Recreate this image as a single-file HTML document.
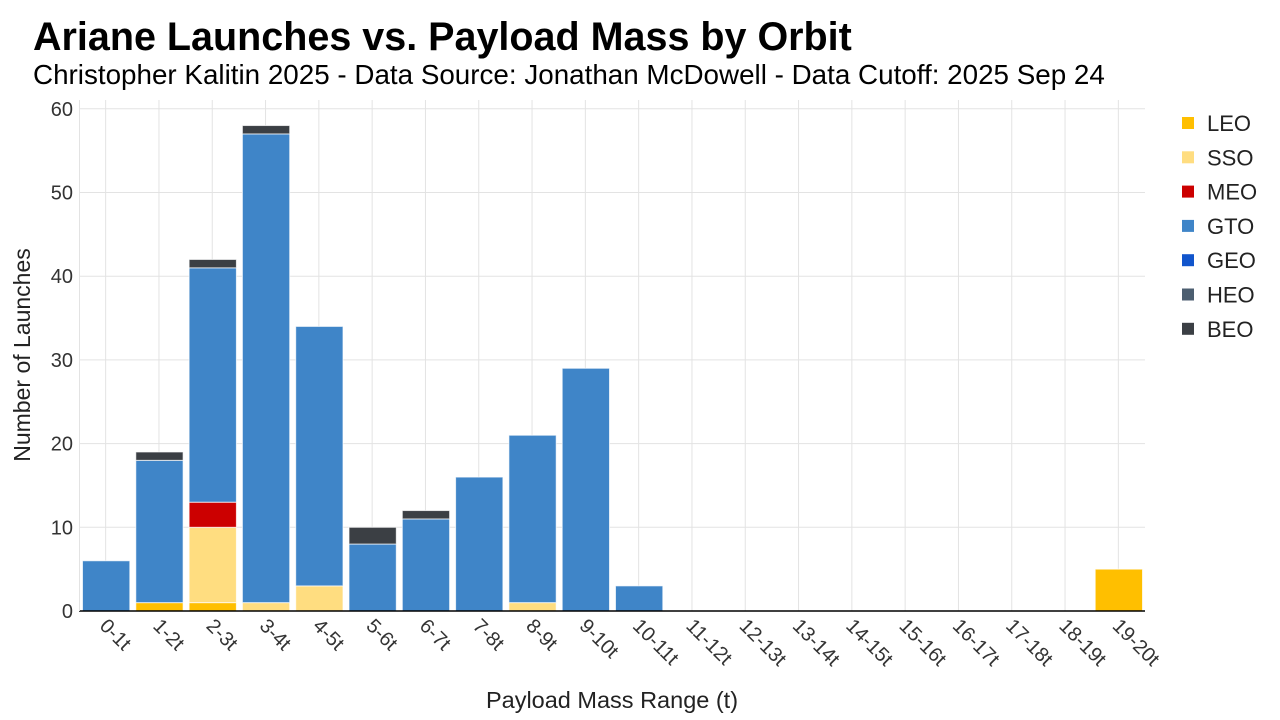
<!DOCTYPE html><html><head><style>body{margin:0;background:#fff}svg{display:block;font-family:"Liberation Sans",Arial,sans-serif}</style></head><body>
<svg width="1280" height="720" xmlns="http://www.w3.org/2000/svg">
<text x="33" y="50" font-size="39.5" font-weight="bold" fill="#000">Ariane Launches vs. Payload Mass by Orbit</text>
<text x="33" y="84" font-size="27.8" fill="#000">Christopher Kalitin 2025 - Data Source: Jonathan McDowell - Data Cutoff: 2025 Sep 24</text>
<g id="grid" stroke="#e3e3e3" stroke-width="1"></g>
<g id="bars"></g>
<line x1="79" y1="611" x2="1145" y2="611" stroke="#000" stroke-width="1.5"/>
<line x1="79.5" y1="100" x2="79.5" y2="611" stroke="#e3e3e3"/>
<g id="yl" font-size="20" fill="#333" text-anchor="end"></g>
<g id="xl" font-size="20" fill="#333"></g>
<text transform="translate(30,355) rotate(-90)" font-size="23" text-anchor="middle" fill="#222">Number of Launches</text>
<text x="612" y="708" font-size="23.5" text-anchor="middle" fill="#222">Payload Mass Range (t)</text>
<g id="leg" font-size="22" fill="#222"></g>
<script>
var ns="http://www.w3.org/2000/svg";
function el(p,t,a,txt){var e=document.createElementNS(ns,t);for(var k in a)e.setAttribute(k,a[k]);if(txt!=null)e.textContent=txt;document.getElementById(p).appendChild(e);}
var y0=611,k=8.37,x0=79,s=53.3;
for(var v=0;v<=60;v+=10){var y=y0-v*k;if(v>0)el("grid","line",{x1:79,x2:1145,y1:y,y2:y});el("yl","text",{x:73,y:y+7},v);}
for(var i=0;i<20;i++){var cx=x0+s*(i+.5);el("grid","line",{x1:cx,x2:cx,y1:100,y2:611});
el("xl","text",{transform:"translate("+(cx-7)+",627) rotate(45)"},i+"-"+(i+1)+"t");}
var cols=["#ffbf00","#ffdd80","#cc0000","#3f85c8","#1155cc","#4c5e70","#3b3f44"];
var names=["LEO","SSO","MEO","GTO","GEO","HEO","BEO"];
var d={0:[0,0,0,6,0,0,0],1:[1,0,0,17,0,0,1],2:[1,9,3,28,0,0,1],3:[0,1,0,56,0,0,1],4:[0,3,0,31,0,0,0],5:[0,0,0,8,0,0,2],6:[0,0,0,11,0,0,1],7:[0,0,0,16,0,0,0],8:[0,1,0,20,0,0,0],9:[0,0,0,29,0,0,0],10:[0,0,0,3,0,0,0],19:[5,0,0,0,0,0,0]};
for(var i in d){var c=0,bx=x0+s*i+3.5;for(var j=0;j<7;j++){var n=d[i][j];if(!n)continue;
el("bars","rect",{x:bx,y:y0-(c+n)*k,width:s-6,height:n*k,fill:cols[j],stroke:"#fff","stroke-opacity":"0.7","stroke-width":1});c+=n;}}
for(var j=0;j<7;j++){var y=123+j*34.3;el("leg","rect",{x:1182,y:y-6,width:12,height:12,fill:cols[j]});el("leg","text",{x:1207,y:y+8},names[j]);}
</script>
</svg></body></html>
